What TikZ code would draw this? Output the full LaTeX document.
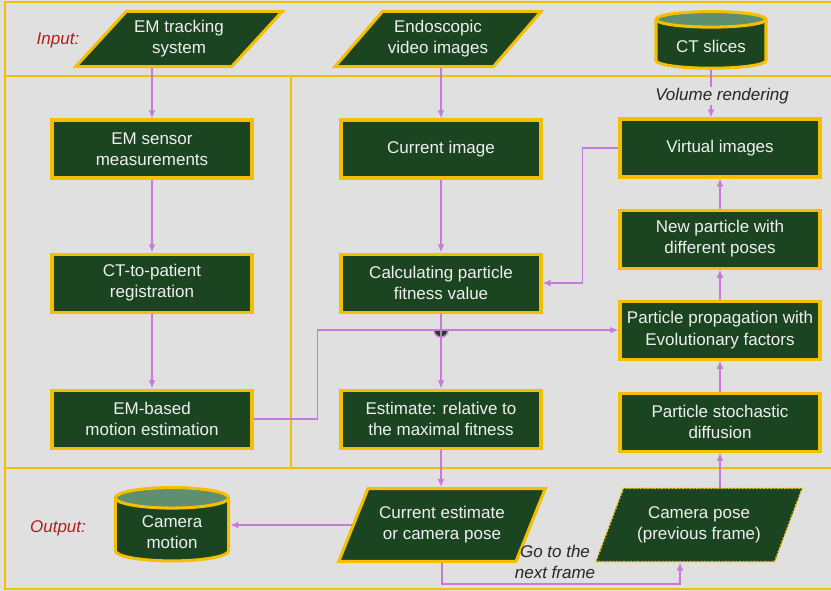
\documentclass[tikz,border=0pt]{standalone}
\usepackage{fontspec}
\setmainfont{Liberation Sans}
\usetikzlibrary{
  arrows.meta, % for the Latex arrow tips
  positioning, % for relative placement of the boxes
  shapes.geometric, % for trapezium and cylinder
}
\definecolor{boxgreen}{HTML}{1B4421}
\definecolor{topgreen}{HTML}{5E8F6E}
\definecolor{gold}{HTML}{F5BE00}
\definecolor{linkviolet}{HTML}{C77BD9}
\definecolor{labelred}{HTML}{B41E1E}
\definecolor{bggray}{HTML}{E1E0E1}
\definecolor{boxtext}{HTML}{F0F0F0}
\tikzset{
  stepbox/.style={ % style for the processing steps
    rectangle,draw=gold,line width=2.6pt, % gold frame
    fill=boxgreen,text=boxtext,
    align=center,
    minimum width=6.0cm,minimum height=1.74cm,
    font=\fontsize{14.5}{18}\selectfont,
  },
  para/.style={ % style for the data in and out
    stepbox, % inherit the step style
    trapezium,
    trapezium left angle=46,trapezium right angle=134,
    trapezium stretches=true,
    minimum width=6.2cm,minimum height=1.66cm,
    inner xsep=0pt,
  },
  store/.style={ % style for the stored data
    cylinder,shape border rotate=90,aspect=0.2,
    draw=gold,line width=2.6pt,
    cylinder uses custom fill,
    cylinder body fill=boxgreen,cylinder end fill=topgreen,
    text=boxtext,align=center,
    font=\fontsize{14.5}{18}\selectfont,
  },
  tag/.style={ % red row labels
    font=\itshape\fontsize{14.5}{18}\selectfont,text=labelred,
  },
  note/.style={ % labels on connectors
    font=\itshape\fontsize{14.5}{18}\selectfont,text=black!85,align=center,
  },
  frame/.style={ % panel lines
    draw=gold,line width=2pt,
  },
  flow/.style={ % style for the connections
    draw=linkviolet,line width=1.5pt,
    -{Latex[length=7pt,width=6pt]},
  },
}
\begin{document}
\begin{tikzpicture}[x=0.03cm,y=-0.03cm]

	% canvas and panels
	\fill[bggray] (0,0) rectangle (831,591);
	\useasboundingbox (0,0) rectangle (831,591);
	\draw[frame] (831,2) -- (5,2) -- (5,589) -- (831,589);
	\draw[frame] (5,76) -- (831,76);
	\draw[frame] (5,468) -- (831,468);
	\draw[frame] (291,76) -- (291,468);

	% inputs
	\node[tag] (inlab) at (58,40) {Input:};
	\node[para] (emtrack) at (179,39) {EM tracking\\system};
	\node[para] (endo) at (438,39) {Endoscopic\\video images};
	\node[store,minimum width=3.3cm,minimum height=1.7cm] (ctsl) at (711,46) {CT slices};

	% EM branch
	\node[stepbox] (emsens) at (152,149) {EM sensor\\measurements};
	\node[stepbox,below=2.19cm of emsens] (ctreg) {CT-to-patient\\registration};
	\node[stepbox,below=2.25cm of ctreg] (embased) {EM-based\\motion estimation};

	% image branch
	\node[stepbox] (curimg) at (441,149) {Current image};
	\node[stepbox,below=2.19cm of curimg] (calc) {Calculating particle\\fitness value};
	\node[stepbox,below=2.25cm of calc] (estim) {Estimate: relative to\\the maximal fitness};

	% particle branch
	\node[stepbox] (virt) at (720,148) {Virtual images};
	\node[stepbox,below=0.9cm of virt] (newpart) {New particle with\\different poses};
	\node[stepbox,below=0.9cm of newpart] (prop) {Particle propagation with\\Evolutionary factors};
	\node[stepbox,below=0.93cm of prop] (diffus) {Particle stochastic\\diffusion};
	\node[note,inner sep=1pt] (volren) at (722,96) {Volume rendering};

	% outputs
	\node[tag] (outlab) at (58,528) {Output:};
	\node[store,aspect=0.3,minimum width=3.4cm,minimum height=2.2cm] (cammot) at (172,532) {Camera\\motion};
	\node[para,trapezium left angle=61,trapezium right angle=119,minimum height=2.18cm] (curest) at (442,525) {Current estimate\\or camera pose};
	\node[para,trapezium left angle=63,trapezium right angle=117,minimum height=2.2cm,
		line width=1.3pt,dash pattern=on 1.5pt off 1.5pt] (prevpose) at (699,525) {Camera pose\\(previous frame)};
	\node[note] (nextfr) at (555,562) {Go to the\\next frame};

	% connections
	\draw[flow] (emsens.north |- emtrack.south) -- (emsens.north);
	\draw[flow] (emsens) -- (ctreg);
	\draw[flow] (ctreg) -- (embased);
	\draw[flow] (curimg.north |- endo.south) -- (curimg.north);
	\draw[flow] (curimg) -- (calc);
	\draw[flow,-] (ctsl.south) -- (ctsl.south |- volren.north);
	\draw[flow] (ctsl.south |- volren.south) -- (ctsl.south |- virt.north);
	\draw[flow] (newpart) -- (virt);
	\draw[flow] (prop) -- (newpart);
	\draw[flow] (diffus) -- (prop);
	\draw[flow] (diffus.south |- prevpose.north) -- (diffus.south);
	\draw[flow] (virt.west) -- ++(-36,0) |- (calc.east);
	\draw[flow] (embased.east) -- ++(64,0) |- (prop.west);
	\coordinate (jn) at (calc.south |- prop.west);
	\filldraw[fill=boxgreen,draw=linkviolet,line width=1.2pt]
		([xshift=-0.21cm]jn) arc[start angle=180,end angle=360,radius=0.21cm] -- cycle;
	\draw[flow] (calc) -- (estim);
	\draw[flow] (estim.south) -- (estim.south |- curest.north);
	\draw[flow] (curest.west) -- (curest.west -| cammot.east);
	\draw[flow] (curest.south) -- ++(0,21) -| ([xshift=-0.57cm]prevpose.south);

\end{tikzpicture}
\end{document}
